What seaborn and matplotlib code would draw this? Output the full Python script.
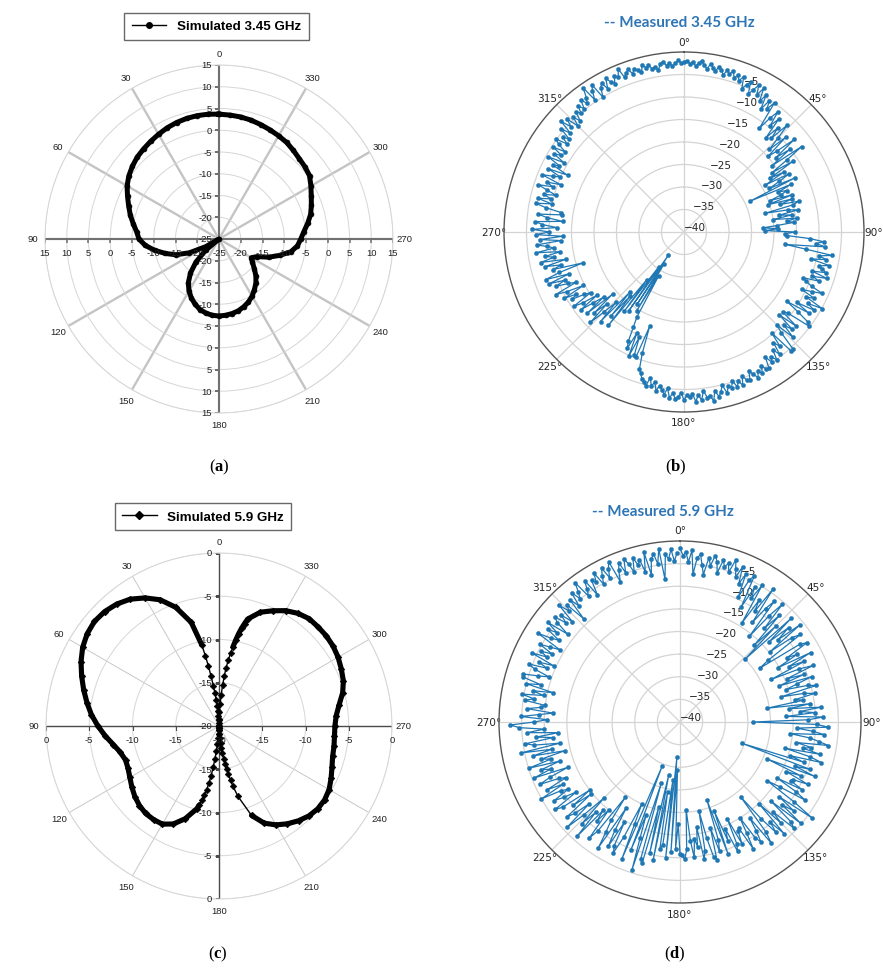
import numpy as np
import matplotlib
matplotlib.use("Agg")
import matplotlib.pyplot as plt
from matplotlib.lines import Line2D
import seaborn as sns

# ---------------- data ----------------
# Simulated pattern at 3.45 GHz (dB), 5-degree steps, angle counter-clockwise from 0
sim345_deg = list(range(0, 360, 5))
sim345_db = [
    3.7, 3.8, 3.8, 3.7, 3.5, 3.2, 2.8, 2.4, 2.0, 1.6,
    1.0, 0.3, -0.6, -1.8, -2.9, -3.9, -5.0, -6.0, -6.6, -8.0,
    -10.0, -12.2, -14.4, -17.5, -21.5, -25.0, -21.0, -17.5, -14.8, -12.7,
    -11.2, -10.0, -9.0, -8.2, -7.7, -7.4, -7.3, -7.4, -7.6, -7.9,
    -8.4, -9.0, -9.8, -10.8, -11.8, -13.0, -14.4, -15.6, -16.4, -15.4,
    -12.8, -10.5, -8.2, -6.9, -6.2, -5.4, -4.3, -3.2, -2.4, -1.6,
    -0.6, 0.4, 0.8, 1.1, 1.6, 2.1, 2.4, 2.7, 3.0, 3.3,
    3.5, 3.6,
]

# Simulated pattern at 5.9 GHz (dB); finer angle steps around the two nulls
sim59_deg = (list(range(0, 13)) + list(range(15, 166, 5)) + list(range(166, 194))
             + list(range(195, 346, 5)) + list(range(346, 360)))
sim59_db = [
    # 0 .. 12
    -20.0, -19.6, -19.2, -18.8, -18.3, -17.7, -17.0, -16.2, -15.3, -14.2, -13.0, -11.7, -10.4,
    # 15 .. 165
    -7.6, -5.4, -3.9, -2.9, -2.1, -1.6, -1.3, -1.2, -1.4, -1.8,
    -2.4, -3.1, -3.8, -4.5, -5.2, -6.0, -6.8, -7.6, -8.2, -8.5,
    -8.4, -8.1, -7.7, -7.3, -7.0, -6.8, -6.8, -6.9, -7.5, -8.6,
    -10.1,
    # 166 .. 193
    -10.6, -11.2, -11.8, -12.5, -13.3, -14.2, -15.2, -16.2, -17.1, -17.9,
    -18.6, -19.1, -19.5, -19.8, -20.0, -19.8, -19.5, -19.1, -18.6, -18.0,
    -17.4, -16.8, -16.2, -15.6, -15.0, -14.3, -13.6, -12.9,
    # 195 .. 345
    -11.6, -9.0, -7.6, -6.8, -6.2, -5.7, -5.3, -5.1, -5.1, -5.3,
    -5.7, -6.1, -6.4, -6.5, -6.6, -6.6, -6.4, -5.9, -5.2, -4.7,
    -4.4, -4.1, -3.9, -3.8, -3.8, -3.8, -4.1, -4.6, -5.3, -6.0,
    -7.2,
    # 346 .. 359
    -7.8, -8.4, -9.1, -9.9, -10.7, -11.5, -12.3, -13.2, -14.2, -15.3,
    -16.4, -17.4, -18.4, -19.3,
]

# Measured patterns (dB), 1-degree steps, angle clockwise from 0
meas_deg = list(range(0, 360))
meas345_db = [
    -2.3, -1.9, -2.6, -2.1, -3.0, -2.4, -1.8, -2.7, -3.4, -2.2,
    -2.9, -3.6, -2.5, -3.1, -4.0, -2.8, -3.5, -2.6, -3.9, -3.2,
    -4.2, -3.0, -5.7, -4.4, -3.6, -6.2, -4.8, -3.4, -5.5, -3.5,
    -6.4, -4.6, -7.8, -5.2, -7.0, -4.9, -11.5, -8.4, -6.1, -9.6,
    -7.2, -12.3, -8.8, -11.5, -6.9, -10.4, -13.6, -9.1, -14.9, -12.5,
    -8.0, -13.8, -10.2, -15.6, -7.7, -12.1, -16.4, -11.0, -17.5, -14.2,
    -19.2, -13.2, -16.0, -18.7, -12.6, -23.9, -13.9, -17.2, -15.4, -16.8,
    -19.6, -14.5, -20.4, -14.9, -17.8, -13.6, -15.0, -21.5, -16.3, -14.2,
    -18.5, -15.7, -20.1, -14.8, -17.0, -15.5, -19.3, -22.4, -19.0, -22.0,
    -15.3, -17.6, -17.1, -11.9, -8.9, -10.6, -8.4, -17.3, -12.7, -6.7,
    -9.5, -7.8, -11.2, -6.9, -9.0, -8.2, -7.2, -10.3, -6.6, -9.8,
    -8.1, -11.6, -10.8, -9.2, -6.4, -8.7, -10.9, -7.5, -9.2, -4.9,
    -8.3, -6.2, -10.5, -7.0, -12.4, -9.1, -6.0, -5.3, -10.8, -11.8,
    -7.4, -11.9, -7.7, -9.6, -6.3, -10.8, -8.9, -4.6, -4.3, -10.3,
    -6.8, -8.4, -5.5, -7.3, -4.9, -6.1, -5.2, -6.8, -4.4, -4.5,
    -5.6, -4.1, -5.0, -3.7, -4.8, -5.9, -3.9, -4.3, -5.4, -3.6,
    -4.7, -3.6, -5.2, -3.8, -4.4, -2.9, -5.0, -3.5, -2.6, -4.1,
    -1.9, -3.2, -2.8, -4.5, -2.4, -3.7, -2.2, -4.0, -3.3, -3.8,
    -2.6, -4.3, -3.4, -2.9, -4.1, -3.0, -5.1, -3.6, -4.6, -5.4,
    -4.2, -6.0, -5.0, -6.8, -4.7, -5.6, -6.0, -7.2, -7.9, -11.6,
    -17.7, -10.2, -10.5, -14.6, -9.8, -15.2, -11.2, -12.8, -16.0, -18.4,
    -28.8, -19.6, -31.7, -21.0, -33.8, -18.6, -30.4, -17.9, -26.5, -13.3,
    -21.5, -15.4, -22.2, -12.8, -18.3, -14.9, -11.1, -16.6, -13.2, -19.0,
    -12.0, -17.0, -14.4, -11.3, -16.1, -12.5, -10.4, -15.3, -13.8, -11.0,
    -12.4, -9.6, -14.7, -10.8, -8.3, -13.5, -11.9, -9.1, -11.4, -7.9,
    -12.8, -7.5, -10.9, -16.5, -9.7, -11.8, -8.2, -13.1, -7.4, -10.6,
    -8.7, -12.2, -6.8, -11.0, -9.3, -7.1, -12.6, -8.0, -13.0, -7.0,
    -10.1, -6.3, -11.7, -8.5, -6.9, -12.9, -9.4, -7.3, -12.7, -12.3,
    -8.8, -6.4, -10.0, -6.6, -9.6, -7.7, -10.4, -8.2, -6.0, -9.1,
    -7.6, -10.7, -5.9, -8.3, -9.9, -6.7, -11.2, -7.4, -8.6, -5.5,
    -9.2, -6.3, -7.9, -5.4, -8.1, -6.0, -4.9, -7.5, -5.8, -7.1,
    -4.4, -6.5, -3.3, -5.7, -3.8, -6.8, -4.6, -6.2, -4.0, -5.1,
    -3.5, -4.7, -2.8, -4.2, -3.1, -0.9, -4.5, -2.6, -1.5, -5.1,
    -3.0, -2.2, -3.9, -1.7, -2.9, -3.6, -2.0, -2.7, -0.9, -3.2,
    -2.4, -1.8, -3.0, -2.1, -2.6, -3.3, -1.8, -2.5, -2.0, -3.1,
    -2.7, -3.6, -2.2, -1.9, -2.8, -2.3, -3.0, -2.5, -1.8, -2.4,
]
meas59_db = [
    -1.5, -3.2, -2.4, -4.6, -2.0, -7.2, -3.5, -2.7, -5.0, -7.0,
    -3.1, -4.8, -2.4, -3.6, -6.1, -2.9, -4.4, -3.3, -5.2, -2.1,
    -4.0, -5.7, -3.0, -6.8, -4.3, -9.5, -5.1, -3.8, -11.2, -6.0,
    -8.4, -4.7, -14.3, -7.9, -10.5, -4.0, -12.8, -8.6, -6.2, -15.6,
    -9.3, -5.5, -12.1, -7.8, -16.4, -10.0, -20.0, -6.4, -13.5, -8.2,
    -11.7, -5.8, -14.8, -9.0, -7.1, -16.2, -18.8, -8.5, -6.9, -12.4,
    -10.1, -15.3, -7.3, -13.0, -9.4, -17.7, -11.2, -8.0, -14.6, -10.7,
    -16.8, -9.2, -12.9, -15.5, -10.6, -8.8, -17.1, -11.8, -9.6, -14.0,
    -12.3, -20.6, -10.9, -15.8, -8.6, -13.4, -10.2, -16.5, -8.4, -11.6,
    -23.8, -9.8, -7.2, -14.2, -10.5, -8.0, -15.6, -11.1, -9.0, -6.8,
    -13.9, -10.4, -12.2, -8.3, -16.0, -10.2, -7.5, -14.5, -11.3, -25.6,
    -9.4, -12.8, -7.9, -19.2, -10.8, -14.1, -8.6, -11.9, -12.3, -9.1,
    -15.2, -10.0, -7.4, -13.7, -16.7, -9.2, -3.9, -12.6, -8.1, -10.9,
    -5.2, -13.3, -7.0, -5.6, -11.5, -8.4, -14.9, -6.3, -10.2, -7.7,
    -12.0, -18.7, -9.1, -6.5, -13.8, -10.6, -8.0, -9.5, -15.1, -11.4,
    -7.6, -13.2, -12.6, -9.8, -16.1, -10.3, -8.7, -14.4, -11.7, -18.9,
    -9.0, -21.7, -12.5, -10.1, -15.7, -8.5, -9.3, -13.6, -19.8, -11.0,
    -9.3, -16.6, -12.2, -14.0, -9.9, -13.7, -20.6, -11.8, -9.6, -10.5,
    -10.9, -17.4, -12.0, -29.4, -11.3, -32.2, -9.7, -27.0, -12.5, -11.6,
    -24.3, -8.9, -28.1, -10.4, -20.7, -7.8, -8.5, -26.0, -5.7, -12.9,
    -18.2, -9.6, -29.5, -7.1, -15.4, -20.0, -11.8, -7.6, -9.0, -14.7,
    -8.3, -12.1, -17.6, -6.9, -10.8, -13.5, -19.4, -9.9, -7.5, -15.0,
    -11.4, -14.1, -6.0, -12.7, -8.8, -16.3, -10.5, -5.9, -13.0, -9.2,
    -7.4, -14.6, -10.1, -15.0, -8.0, -6.3, -12.4, -9.5, -7.2, -11.1,
    -9.7, -4.9, -10.8, -7.0, -12.0, -10.5, -6.1, -8.9, -13.3, -5.4,
    -9.6, -7.5, -12.1, -5.0, -10.4, -8.2, -13.8, -6.6, -11.0, -4.1,
    -13.1, -7.3, -5.5, -11.8, -8.0, -13.0, -6.2, -9.9, -4.4, -2.5,
    -7.8, -10.6, -4.9, -8.7, -11.9, -6.0, -9.1, -10.0, -5.3, -7.4,
    -4.5, -9.3, -6.7, -11.2, -5.0, -8.1, -3.9, -3.7, -7.0, -9.4,
    -5.8, -4.2, -8.3, -6.1, -9.4, -3.8, -7.2, -5.5, -8.0, -4.6,
    -6.9, -9.0, -3.0, -5.9, -7.7, -4.3, -6.4, -3.4, -8.5, -5.1,
    -3.9, -6.6, -4.7, -7.5, -2.9, -5.3, -4.0, -8.8, -3.6, -6.0,
    -2.7, -4.9, -3.5, -1.4, -5.6, -4.2, -2.3, -6.5, -3.1, -4.0,
    -2.0, -5.2, -3.4, -1.8, -4.5, -2.6, -1.2, -6.3, -3.8, -2.4,
    -4.9, -1.9, -3.3, -5.4, -2.2, -4.1, -3.0, -6.0, -1.7, -6.8,
    -3.5, -2.3, -4.7, -1.5, -8.3, -2.8, -3.9, -1.8, -4.4, -2.6,
]

# ---------------- figure ----------------
W, H = 883, 970
fig = plt.figure(figsize=(W / 100, H / 100), dpi=100)
fig.patch.set_facecolor("white")

SANS = "Liberation Sans"
plt.rcParams["mathtext.fontset"] = "custom"
plt.rcParams["mathtext.rm"] = "Liberation Serif"
plt.rcParams["mathtext.bf"] = "Liberation Serif:bold"


def box(cx, cy, R):
    return [(cx - R) / W, (H - cy - R) / H, 2 * R / W, 2 * R / H]


def closed(deg, db):
    th = np.deg2rad(np.append(deg, deg[0] + 360))
    r = np.append(db, db[0])
    return th, r


def excel_axes(ax, rmin, rmax, spoke_lw, spoke_color, axis_lw, axis_color):
    ax.set_theta_zero_location("N")
    ax.set_theta_direction(1)
    ax.set_rlim(rmin, rmax)
    ax.set_yticks(np.arange(rmin + 5, rmax + 1, 5))
    ax.set_yticklabels([])
    ang = np.arange(0, 360, 30)
    ax.set_thetagrids(ang, [str(a) for a in ang], fontfamily=SANS)
    ax.tick_params(axis="x", labelsize=6.8, labelcolor="#222222", pad=1.6, length=0)
    ax.tick_params(axis="y", length=0)
    ax.xaxis.grid(True, color=spoke_color, lw=spoke_lw)
    ax.yaxis.grid(True, color="#d6d6d6", lw=0.7)
    ax.spines["polar"].set_color("#d6d6d6")
    ax.spines["polar"].set_linewidth(0.7)
    ticks = np.arange(rmin, rmax + 1, 5)
    for th in (0, np.pi / 2, np.pi, 1.5 * np.pi):
        ax.plot([th, th], [rmin, rmax], color=axis_color, lw=axis_lw, zorder=1.9,
                solid_capstyle="butt")
    for th in (0, np.pi):
        ax.plot(np.full(len(ticks), th), ticks, ls="none", marker=0, ms=3,
                mew=axis_lw * 0.8, color=axis_color, zorder=1.9)
    for th in (np.pi / 2, 1.5 * np.pi):
        ax.plot(np.full(len(ticks), th), ticks, ls="none", marker=3, ms=3,
                mew=axis_lw * 0.8, color=axis_color, zorder=1.9)
    kw = dict(textcoords="offset points", fontsize=6.8, color="#222222",
              fontfamily=SANS, annotation_clip=False)
    for th in (0, np.pi):
        for v in (ticks if th == 0 else ticks[1:]):
            ax.annotate(f"{int(v)}", xy=(th, v), xytext=(-5, 0), ha="right", va="center", **kw)
    for th in (np.pi / 2, 1.5 * np.pi):
        for v in (ticks if th == np.pi / 2 else ticks[1:]):
            ax.annotate(f"{int(v)}", xy=(th, v), xytext=(0, -10), ha="center", va="center", **kw)


def measured_axes(ax, pad):
    ax.set_theta_zero_location("N")
    ax.set_theta_direction(-1)
    ax.set_rlim(-40, 0)
    ax.set_yticks(np.arange(-40, 0, 5))
    ax.set_rlabel_position(22.5)
    ang = np.arange(0, 360, 45)
    ax.set_thetagrids(ang, [f"{a}°" for a in ang])
    ax.tick_params(axis="x", labelsize=7.6, labelcolor="#262626", length=0, pad=pad)
    ax.tick_params(axis="y", labelsize=7.6, labelcolor="#262626", length=0)
    ax.grid(True, color="#d4d4d4", lw=0.9)
    ax.spines["polar"].set_color("#555555")
    ax.spines["polar"].set_linewidth(1.0)


# (a) simulated 3.45 GHz
ax_a = fig.add_axes(box(219, 240, 174), projection="polar")
th, r = closed(sim345_deg, sim345_db)
sns.lineplot(x=th, y=r, ax=ax_a, sort=False, estimator=None, color="black",
             lw=3.6, marker="o", markersize=3.5, mec="black", mew=0.5, zorder=3)
excel_axes(ax_a, -25, 15, 1.7, "#c4c4c4", 1.4, "#6f6f6f")

# (c) simulated 5.9 GHz
ax_c = fig.add_axes(box(219, 727, 173), projection="polar")
th, r = closed(sim59_deg, sim59_db)
band = np.where(r > -11, r, np.nan)
ax_c.plot(th, band, color="black", lw=3.7, zorder=3, solid_capstyle="round")
sns.lineplot(x=th, y=r, ax=ax_c, sort=False, estimator=None, color="black",
             lw=1.0, marker="D", markersize=3.4, mec="black", mew=0.4, zorder=3)
excel_axes(ax_c, -20, 0, 0.7, "#c8c8c8", 1.0, "#4a4a4a")

# (b) measured 3.45 GHz
ax_b = fig.add_axes(box(684, 233, 180), projection="polar")
sns.lineplot(x=np.deg2rad(meas_deg), y=meas345_db, ax=ax_b, sort=False, estimator=None,
             color="#1f77b4", lw=0.9, marker="o", markersize=3.0, mec="#1f77b4", mew=0.3)
measured_axes(ax_b, 0.0)

# (d) measured 5.9 GHz
ax_d = fig.add_axes(box(680, 723, 181), projection="polar")
sns.lineplot(x=np.deg2rad(meas_deg), y=meas59_db, ax=ax_d, sort=False, estimator=None,
             color="#1f77b4", lw=0.9, marker="o", markersize=3.0, mec="#1f77b4", mew=0.3)
measured_axes(ax_d, 0.6)

for ax in (ax_a, ax_b, ax_c, ax_d):
    ax.set_xlabel("")
    ax.set_ylabel("")

# legends of the simulated panels
leg_font = dict(family=SANS, weight="bold", size=9.6)
for (cx, cy), mk, label in (((216.5, 27), "o", "Simulated 3.45 GHz"),
                            ((203, 517.5), "D", "Simulated 5.9 GHz")):
    h = Line2D([], [], color="black", lw=1.0, marker=mk, ms=4 if mk == "o" else 3.6)
    leg = fig.legend([h], [label], loc="center", bbox_to_anchor=(cx / W, 1 - cy / H),
                     frameon=True, fancybox=False, edgecolor="#444444", prop=leg_font,
                     handlelength=2.6, borderpad=0.55, handletextpad=0.8)
    leg.get_frame().set_linewidth(1.0)

# titles of the measured panels
for (cx, cy), label in (((679, 23), "-- Measured 3.45 GHz"),
                        ((663, 512), "-- Measured 5.9 GHz")):
    fig.text(cx / W, 1 - cy / H, label, ha="center", va="center", color="#2e75b6",
             fontsize=11, fontweight="bold", fontfamily="Lato")

# panel letters
for (cx, cy), letter in (((219, 467), "a"), ((676, 467), "b"),
                         ((218, 954), "c"), ((675, 954), "d")):
    fig.text(cx / W, 1 - cy / H, "(" + r"$\mathbf{" + letter + "}$" + ")",
             ha="center", va="center", fontsize=12, fontfamily="Liberation Serif")

fig.savefig("out.png", dpi=100, facecolor="white")
